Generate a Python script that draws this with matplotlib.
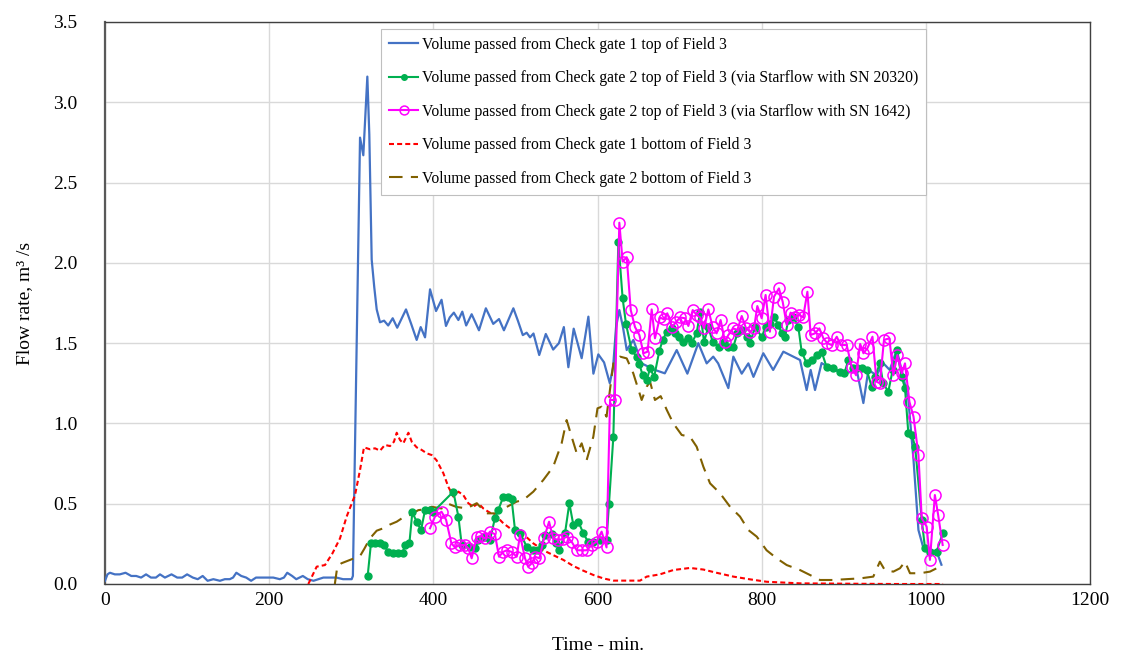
import matplotlib
matplotlib.use("Agg")
import matplotlib.pyplot as plt

plt.rcParams['font.family'] = ['Liberation Serif', 'DejaVu Serif']

# ---- data (time in min, flow in m3/s) ----
gate1_top_t = [0, 3, 6, 12, 18, 25, 32, 38, 44, 50, 56, 62, 67, 73, 81, 88, 94, 100, 107, 113,
               119, 125, 132, 140, 146, 152, 156, 160, 166, 172, 178, 184, 195, 205, 213, 218,
               222, 228, 233, 241, 247, 254, 260, 266, 274, 282, 290, 298, 300.5, 302, 306.5,
               310.7, 314.7, 319.6, 322, 324.9, 328, 331, 335, 340, 345, 350.5, 356, 361, 366.7,
               373, 379.7, 384.6, 389.9, 396, 403.3, 410, 415.4, 420, 425, 430.5, 435.3, 440,
               446.7, 455.6, 464, 473, 480, 486, 491, 497.5, 503, 509, 513.7, 517.8, 522, 529,
               537, 546, 553, 559, 564.5, 571, 580.7, 588.9, 595, 601, 608, 615, 619, 622.6,
               626.6, 631, 635.6, 643.7, 653.8, 670, 682, 696.5, 709.5, 722.8, 733, 741, 747,
               759.4, 765.5, 775.7, 783.8, 790, 802, 814, 826.4, 846.7, 854.8, 859.7, 865, 873,
               887, 903.6, 915.8, 923.9, 930, 940, 948, 956, 964.5, 972.6, 978.7, 985, 991, 997,
               1005, 1013, 1019]
gate1_top_v = [0.02, 0.06, 0.07, 0.06, 0.06, 0.07, 0.05, 0.05, 0.04, 0.06, 0.04, 0.04, 0.06, 0.04,
               0.06, 0.04, 0.04, 0.06, 0.04, 0.03, 0.05, 0.02, 0.03, 0.02, 0.03, 0.03, 0.04, 0.07,
               0.05, 0.04, 0.02, 0.04, 0.04, 0.04, 0.03, 0.04, 0.07, 0.05, 0.03, 0.05, 0.03, 0.02,
               0.03, 0.04, 0.04, 0.04, 0.03, 0.03, 0.03, 0.05, 1.46, 2.78, 2.67, 3.16, 2.80, 2.02,
               1.85, 1.71, 1.63, 1.64, 1.61, 1.655, 1.596, 1.65, 1.71, 1.62, 1.52, 1.60, 1.536,
               1.835, 1.70, 1.77, 1.607, 1.66, 1.69, 1.644, 1.696, 1.61, 1.68, 1.58, 1.717, 1.62,
               1.65, 1.58, 1.64, 1.717, 1.64, 1.55, 1.565, 1.536, 1.56, 1.426, 1.557, 1.46, 1.50,
               1.60, 1.35, 1.59, 1.406, 1.665, 1.31, 1.43, 1.38, 1.25, 1.35, 1.60, 1.706, 1.60,
               1.457, 1.52, 1.374, 1.333, 1.312, 1.457, 1.31, 1.50, 1.374, 1.416, 1.374, 1.22,
               1.416, 1.31, 1.374, 1.29, 1.437, 1.333, 1.447, 1.395, 1.208, 1.333, 1.208, 1.376,
               1.333, 1.314, 1.333, 1.127, 1.333, 1.30, 1.376, 1.333, 1.457, 1.29, 1.146, 0.772,
               0.336, 0.224, 0.21, 0.205, 0.12]

gate2_top_a_t = [320, 324, 329, 335, 340, 345, 351, 357, 362.6, 365.5, 370.8, 374.4, 379.7, 385,
                 389.9, 396, 400, 424.4, 430.5, 434.6, 444.7, 450.8, 454.9, 463, 469, 475, 479,
                 485, 491, 495.4, 499.5, 505.6, 513.7, 521.8, 527.9, 532, 536, 544, 549.5, 553.5,
                 560.4, 565.7, 570.6, 576.7, 582.7, 588.8, 594.9, 603, 611, 614, 619.3, 625.4,
                 630.6, 634.7, 641.6, 647.7, 651, 655, 660, 664, 669, 675.4, 679.5, 684.4, 690.5,
                 694.4, 699.7, 704.6, 710.7, 714.7, 720.8, 725, 729.8, 735, 740.3, 748.4, 754,
                 759.4, 765.5, 770.4, 775.7, 781.8, 785.8, 791.9, 800, 805.3, 810, 815, 820.3,
                 824.4, 828.4, 832.5, 838.6, 844.7, 848.7, 854.8, 860.9, 867, 873, 879, 887,
                 895.4, 900.7, 905.6, 911, 915.8, 922, 928, 934, 938, 944, 948, 954.3, 959.6,
                 964.5, 970.6, 974.6, 978.7, 983, 987, 995, 999, 1005, 1013, 1020.5]
gate2_top_a_v = [0.05, 0.253, 0.257, 0.253, 0.243, 0.20, 0.195, 0.195, 0.195, 0.243, 0.253, 0.446,
                 0.388, 0.336, 0.46, 0.46, 0.45, 0.575, 0.42, 0.243, 0.228, 0.222, 0.274, 0.295,
                 0.274, 0.409, 0.46, 0.54, 0.54, 0.527, 0.336, 0.32, 0.232, 0.21, 0.21, 0.243,
                 0.305, 0.31, 0.253, 0.21, 0.316, 0.503, 0.367, 0.388, 0.316, 0.26, 0.264, 0.274,
                 0.274, 0.50, 0.917, 2.13, 1.78, 1.62, 1.457, 1.416, 1.37, 1.30, 1.27, 1.343,
                 1.29, 1.453, 1.52, 1.571, 1.592, 1.561, 1.54, 1.509, 1.53, 1.50, 1.561, 1.696,
                 1.509, 1.60, 1.509, 1.478, 1.509, 1.478, 1.478, 1.561, 1.582, 1.54, 1.50, 1.60,
                 1.54, 1.60, 1.62, 1.665, 1.613, 1.561, 1.54, 1.644, 1.665, 1.60, 1.447, 1.374,
                 1.395, 1.426, 1.447, 1.353, 1.343, 1.322, 1.312, 1.395, 1.343, 1.343, 1.343,
                 1.333, 1.229, 1.29, 1.374, 1.25, 1.198, 1.333, 1.457, 1.29, 1.22, 0.938, 0.928,
                 0.855, 0.40, 0.222, 0.20, 0.20, 0.316]

gate2_top_b_t = [396, 402, 410, 415.5, 422, 426.4, 432.5, 438.6, 442.6, 446.7, 452.8, 457.7, 463,
                 469, 475, 480, 485, 489.4, 495.4, 501.5, 505.6, 511.7, 515.7, 519.8, 523.9,
                 529.2, 534.8, 541, 546, 552.3, 557.5, 562.4, 568.4, 574.7, 580.7, 586.8, 592.9,
                 599, 605, 611, 615.3, 621, 626.6, 630.6, 635.6, 640.5, 645.7, 651, 656, 661,
                 666, 670, 676, 681, 685, 690.5, 695.5, 700.5, 706.6, 710.7, 716, 720.8, 725,
                 729.8, 735, 740.3, 745.1, 750, 755.4, 759.4, 765.5, 770.4, 775.7, 781, 785.8,
                 790.7, 794.7, 800, 804.8, 810, 815, 821, 825.6, 830.5, 835.3, 840.6, 845.9,
                 850.5, 855.7, 859.7, 865, 870.3, 875.2, 880, 885.4, 891.5, 896.2, 903.6, 909.6,
                 915, 920, 924, 929, 935, 940, 944, 949, 955.6, 960.4, 965.3, 970.6, 974.6, 980,
                 985, 991, 995, 1001, 1005, 1011, 1015, 1020.5]
gate2_top_b_v = [0.347, 0.42, 0.45, 0.40, 0.253, 0.228, 0.243, 0.243, 0.222, 0.16, 0.291, 0.299,
                 0.284, 0.326, 0.31, 0.17, 0.20, 0.21, 0.20, 0.17, 0.305, 0.16, 0.108, 0.129,
                 0.17, 0.16, 0.284, 0.388, 0.284, 0.274, 0.28, 0.295, 0.264, 0.21, 0.21, 0.21,
                 0.243, 0.264, 0.326, 0.228, 1.146, 1.146, 2.25, 2.008, 2.035, 1.706, 1.60, 1.551,
                 1.437, 1.447, 1.71, 1.53, 1.66, 1.648, 1.686, 1.60, 1.63, 1.66, 1.655, 1.607,
                 1.706, 1.675, 1.66, 1.592, 1.71, 1.60, 1.561, 1.644, 1.509, 1.551, 1.592, 1.582,
                 1.669, 1.592, 1.571, 1.592, 1.731, 1.655, 1.80, 1.571, 1.789, 1.841, 1.758, 1.613,
                 1.69, 1.665, 1.675, 1.66, 1.82, 1.551, 1.561, 1.592, 1.53, 1.50, 1.488, 1.54,
                 1.488, 1.488, 1.353, 1.30, 1.495, 1.437, 1.47, 1.54, 1.26, 1.25, 1.52, 1.53, 1.30,
                 1.426, 1.312, 1.374, 1.135, 1.042, 0.803, 0.409, 0.357, 0.15, 0.554, 0.43, 0.243]

gate1_bot_t = [247.7, 257.9, 268, 277, 286.3, 294.4, 304.6, 310.7, 315.5, 322.8, 329, 335, 341,
               347.2, 352, 355.4, 359.4, 363.4, 369.6, 373.7, 379.7, 385.8, 391.9, 398, 404,
               412.2, 418.2, 424.4, 430.5, 436.5, 442.6, 448.7, 454.8, 461, 467, 477.2, 485.3,
               493.4, 503.6, 513.7, 521.8, 534, 546, 558.4, 570.6, 582.7, 595, 607, 619.3, 635.6,
               651.8, 660, 676, 692.4, 712.7, 729, 745, 765.5, 785.8, 806, 846.7, 900, 960, 1021]
gate1_bot_v = [0.0, 0.108, 0.118, 0.19, 0.284, 0.42, 0.554, 0.71, 0.851, 0.839, 0.845, 0.83,
               0.866, 0.859, 0.886, 0.942, 0.897, 0.876, 0.942, 0.886, 0.851, 0.835, 0.814, 0.803,
               0.77, 0.69, 0.606, 0.544, 0.575, 0.554, 0.503, 0.481, 0.503, 0.47, 0.45, 0.42,
               0.378, 0.347, 0.316, 0.291, 0.253, 0.21, 0.18, 0.15, 0.112, 0.083, 0.056, 0.035,
               0.021, 0.021, 0.021, 0.046, 0.06, 0.087, 0.10, 0.09, 0.07, 0.046, 0.029, 0.014,
               0.004, 0.002, 0.0, 0.0]

gate2_bot_t = [280, 283, 288, 298.5, 310.7, 316, 322.8, 331, 339, 347, 355.4, 363.4, 371.6, 381.7,
               390, 398, 410, 418, 428, 440.6, 452.8, 465, 477, 489.4, 501.5, 509.6, 521.8, 534,
               546, 556.3, 562.4, 568.5, 574.7, 580.7, 586.8, 594.9, 600, 605, 611, 619.3, 627.4,
               635.6, 643.6, 653.8, 660, 664, 670, 677, 684.4, 692.4, 702.6, 712.7, 720.8, 729,
               737.1, 749.3, 761.5, 773.6, 783.8, 794, 806, 818.3, 830.5, 846.7, 858.9, 871,
               887.3, 903, 920, 936, 944, 950, 960.4, 968.5, 974.6, 980.7, 993, 1005, 1017]
gate2_bot_v = [0.0, 0.108, 0.129, 0.15, 0.174, 0.22, 0.284, 0.332, 0.347, 0.37, 0.388, 0.415, 0.43,
               0.46, 0.465, 0.481, 0.47, 0.50, 0.48, 0.471, 0.503, 0.44, 0.44, 0.48, 0.513, 0.523,
               0.575, 0.648, 0.73, 0.876, 1.021, 0.917, 0.814, 0.876, 0.772, 0.917, 1.094, 1.104,
               1.042, 1.374, 1.416, 1.405, 1.312, 1.146, 1.229, 1.26, 1.146, 1.17, 1.084, 1.0,
               0.928, 0.917, 0.855, 0.73, 0.627, 0.565, 0.481, 0.42, 0.336, 0.295, 0.21, 0.16,
               0.118, 0.087, 0.056, 0.025, 0.025, 0.03, 0.035, 0.046, 0.139, 0.087, 0.077, 0.098,
               0.139, 0.067, 0.067, 0.077, 0.108]

labels = ["Volume passed from Check gate 1 top of Field 3",
          "Volume passed from Check gate 2 top of Field 3 (via Starflow with SN 20320)",
          "Volume passed from Check gate 2 top of Field 3 (via Starflow with SN 1642)",
          "Volume passed from Check gate 1 bottom of Field 3",
          "Volume passed from Check gate 2 bottom of Field 3"]

x_ticks = [0, 200, 400, 600, 800, 1000, 1200]
y_ticks = [0.0, 0.5, 1.0, 1.5, 2.0, 2.5, 3.0, 3.5]

# ---- figure ----
fig = plt.figure(figsize=(11.24, 6.59), dpi=100)
ax = fig.add_axes([105/1124, 1 - 584/659, 985/1124, 562/659])

ax.plot(gate1_top_t, gate1_top_v, color='#4472C4', lw=1.6, label=labels[0], zorder=3)
ax.plot(gate2_top_a_t, gate2_top_a_v, color='#00B050', lw=1.5, marker='o', ms=5,
        mfc='#00B050', mec='#00B050', label=labels[1], zorder=4)
ax.plot(gate2_top_b_t, gate2_top_b_v, color='#FF00FF', lw=1.5, marker='o', ms=8,
        mfc='none', mec='#FF00FF', mew=1.1, label=labels[2], zorder=5)
ax.plot(gate1_bot_t, gate1_bot_v, color='#FF0000', lw=1.5, ls=(0, (2.4, 1.5)),
        label=labels[3], zorder=3)
ax.plot(gate2_bot_t, gate2_bot_v, color='#806000', lw=1.5, ls=(0, (6.5, 4)),
        label=labels[4], zorder=3)

ax.set_xlim(0, 1200)
ax.set_ylim(0, 3.5)
ax.set_xticks(x_ticks)
ax.set_yticks(y_ticks)
ax.set_yticklabels([f"{v:.1f}" for v in y_ticks])
ax.grid(True, color='#d9d9d9', lw=1.0, zorder=0)
ax.set_axisbelow(True)
ax.tick_params(length=0, labelsize=14, colors='#000000')
ax.tick_params(axis='y', pad=20)
ax.tick_params(axis='x', pad=6)
for s in ax.spines.values():
    s.set_color('#404040')
    s.set_linewidth(1.0)
ax.spines['left'].set_linewidth(1.6)
ax.spines['left'].set_color('#595959')

ax.set_xlabel("Time - min.", fontsize=14, labelpad=20)
ax.set_ylabel("Flow rate, m\u00b3 /s", fontsize=14, labelpad=14)

leg = ax.legend(loc='upper left', bbox_to_anchor=(0.28, 0.988), fontsize=11.3,
                frameon=True, fancybox=False, framealpha=1.0, edgecolor='#bfbfbf',
                handlelength=1.9, handletextpad=0.2, labelspacing=1.12,
                borderpad=0.5, borderaxespad=0.0, markerscale=0.8)
leg.get_frame().set_linewidth(0.8)
leg.set_zorder(10)

fig.savefig("out.png", dpi=100)
